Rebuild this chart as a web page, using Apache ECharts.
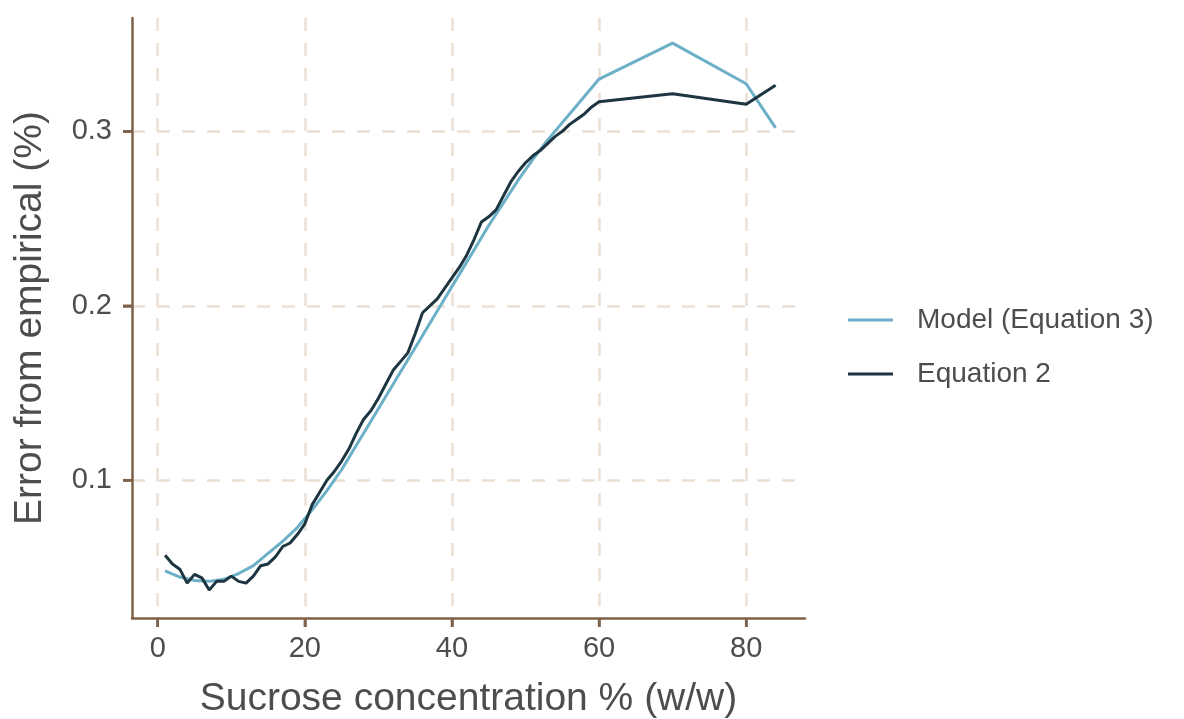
<!DOCTYPE html>
<html>
<head>
<meta charset="utf-8">
<script src="https://cdn.jsdelivr.net/npm/echarts@6/dist/echarts.min.js"></script>
<style>
  html, body { margin: 0; padding: 0; background: #fff; }
  #main { width: 1184px; height: 719px; }
</style>
</head>
<body>
<div id="main"></div>
<script>
// model curve (Equation 3)
const modelX = [1, 3, 5, 7, 9, 11, 13, 15, 17, 19, 21, 23, 25, 27, 29, 31, 33, 35, 37, 39,
  41, 43, 45, 47, 49, 51, 53, 55, 57, 59, 60, 70, 80, 84];
const modelY = [0.048, 0.0445, 0.0425, 0.042, 0.0432, 0.0465, 0.051, 0.058, 0.065, 0.073,
  0.083, 0.094, 0.106, 0.120, 0.134, 0.148, 0.162, 0.176, 0.190, 0.204,
  0.218, 0.232, 0.246, 0.259, 0.272, 0.284, 0.295, 0.305, 0.315, 0.325,
  0.330, 0.3506, 0.3273, 0.302];

// Equation 2
const eq2X = [1, 2, 3, 4, 5, 6, 7, 8, 9, 10, 11, 12, 13, 14, 15, 16, 17, 18, 19, 20,
  21, 22, 23, 24, 25, 26, 27, 28, 29, 30, 31, 32, 33, 34, 35, 36, 37, 38, 39, 40,
  41, 42, 43, 44, 45, 46, 47, 48, 49, 50, 51, 52, 53, 54, 55, 56, 57, 58, 59, 60,
  70, 80, 84];
const eq2Y = [0.057, 0.052, 0.049, 0.041, 0.046, 0.044, 0.037, 0.042, 0.042, 0.045,
  0.042, 0.041, 0.045, 0.051, 0.052, 0.056, 0.062, 0.064, 0.069, 0.075,
  0.086, 0.093, 0.100, 0.105, 0.111, 0.118, 0.127, 0.135, 0.140, 0.147,
  0.155, 0.163, 0.168, 0.173, 0.184, 0.196, 0.200, 0.204, 0.210, 0.216,
  0.222, 0.229, 0.238, 0.248, 0.251, 0.255, 0.263, 0.271, 0.277, 0.282,
  0.286, 0.289, 0.293, 0.297, 0.300, 0.304, 0.307, 0.310, 0.314, 0.317,
  0.3216, 0.3155, 0.3264];

const xTicks = [0, 20, 40, 60, 80];
const yTicks = [0.1, 0.2, 0.3];

const pairs = (xs, ys) => xs.map((x, i) => [x, ys[i]]);

const axisColor = "#7d6148";
const gridColor = "#ecdfd3";
const textColor = "#4d4d4d";
const font = "Liberation Sans";
const tickLen = 9;

const gridLeft = 132;
const gridBottom = 719 - 101;

const myChart = echarts.init(document.getElementById("main"));
const option = {
  backgroundColor: "#fff",
  animation: false,
  textStyle: { fontFamily: font },
  grid: {
    left: 132,
    right: 379,
    top: 18,
    bottom: 101,
    containLabel: false,
    outerBoundsMode: "none",
  },
  legend: {
    orient: "vertical",
    left: 843,
    top: 301,
    icon: "rect",
    itemWidth: 45,
    itemHeight: 3,
    itemGap: 26,
    textStyle: { color: textColor, fontSize: 28, fontFamily: font, padding: [0, 0, 0, 19] },
    data: ["Model (Equation 3)", "Equation 2"],
  },
  xAxis: {
    type: "value",
    min: -3.5,
    max: 88,
    name: "Sucrose concentration % (w/w)",
    nameLocation: "middle",
    nameGap: 62,
    nameMoveOverlap: false,
    nameTextStyle: { color: textColor, fontSize: 39, fontFamily: font },
    axisLine: { show: true, onZero: false, lineStyle: { color: axisColor, width: 2.5 } },
    axisTick: { show: true, length: tickLen, lineStyle: { color: axisColor, width: 2.5 }, customValues: xTicks },
    axisLabel: { color: textColor, fontSize: 29, margin: 7, padding: [9, 0, 0, 0], customValues: xTicks },
    splitLine: { show: true, lineStyle: { color: gridColor, width: 2.5, type: [13, 12] } },
  },
  yAxis: {
    type: "value",
    min: 0.021,
    max: 0.365,
    name: "Error from empirical (%)",
    nameLocation: "middle",
    nameGap: 82,
    nameMoveOverlap: false,
    nameTextStyle: { color: textColor, fontSize: 39, fontFamily: font },
    axisLine: { show: true, onZero: false, lineStyle: { color: axisColor, width: 2.5 } },
    axisTick: { show: true, length: tickLen, lineStyle: { color: axisColor, width: 2.5 }, customValues: yTicks },
    axisLabel: { color: textColor, fontSize: 29, margin: 8, padding: [0, 12, 0, 0], customValues: yTicks, formatter: (v) => v.toFixed(1) },
    splitLine: { show: true, lineStyle: { color: gridColor, width: 2.5, type: [13, 12] } },
  },
  series: [
    {
      name: "Model (Equation 3)",
      type: "line",
      showSymbol: false,
      lineStyle: { color: "#6cb0c8", width: 3 },
      itemStyle: { color: "#6cb0c8" },
      data: pairs(modelX, modelY),
    },
    {
      name: "Equation 2",
      type: "line",
      showSymbol: false,
      lineStyle: { color: "#1d3540", width: 3 },
      itemStyle: { color: "#1d3540" },
      data: pairs(eq2X, eq2Y),
    },
  ],
};
myChart.setOption(option);

// tick marks placed through the axes' own scales
const tickStyle = { stroke: axisColor, lineWidth: 2.5 };
const tickMarks = [];
xTicks.forEach((v) => {
  const px = myChart.convertToPixel({ xAxisIndex: 0 }, v);
  tickMarks.push({ type: "line", shape: { x1: px, y1: gridBottom, x2: px, y2: gridBottom + tickLen }, style: tickStyle, z: 10 });
});
yTicks.forEach((v) => {
  const py = myChart.convertToPixel({ yAxisIndex: 0 }, v);
  tickMarks.push({ type: "line", shape: { x1: gridLeft - tickLen, y1: py, x2: gridLeft, y2: py }, style: tickStyle, z: 10 });
});
myChart.setOption({ graphic: tickMarks });
</script>
</body>
</html>
